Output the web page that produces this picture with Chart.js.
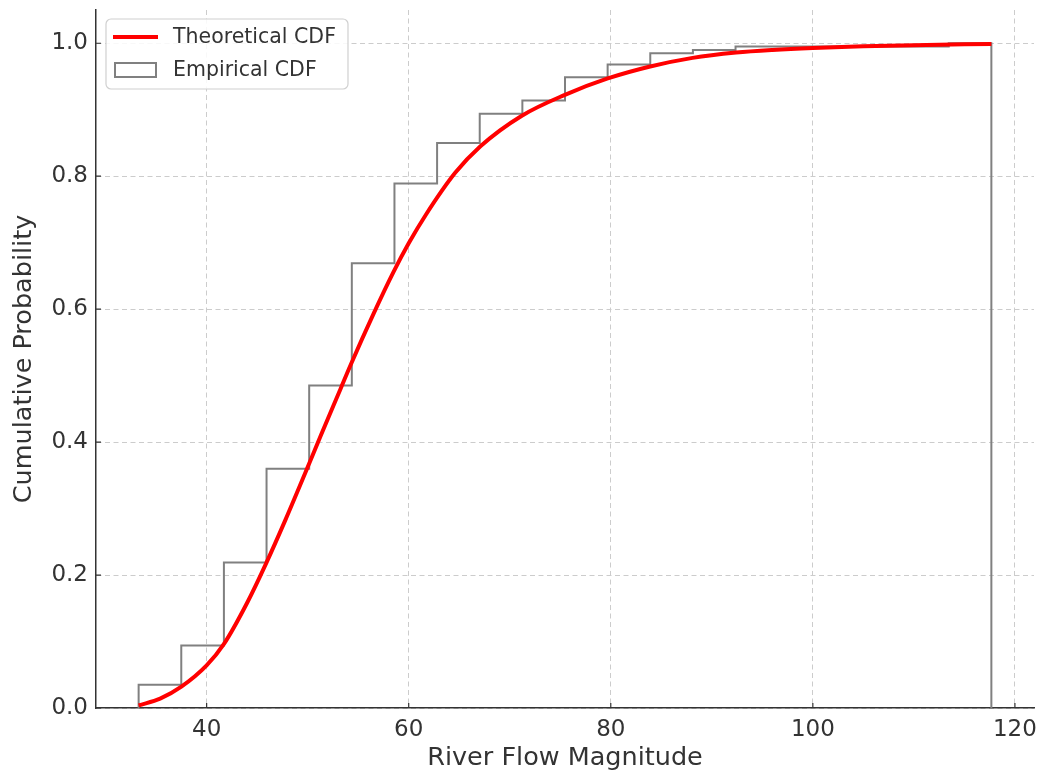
<!DOCTYPE html>
<html>
<head>
<meta charset="utf-8">
<script src="https://cdn.jsdelivr.net/npm/chart.js@4/dist/chart.umd.min.js"></script>
<style>
  html, body { margin: 0; padding: 0; background: #fff; }
  #wrap { width: 1041px; height: 774px; }
</style>
</head>
<body>
<div id="wrap"><canvas id="cdf-chart" width="1041" height="774"></canvas></div>
<script>
const xTicks = [40, 60, 80, 100, 120];
const yTicks = [0, 0.2, 0.4, 0.6, 0.8, 1.0];

// histogram bin edges and cumulative heights (step outline)
const binEdges = [33.27, 37.49, 41.71, 45.93, 50.15, 54.37, 58.59, 62.81, 67.03, 71.25,
  75.47, 79.69, 83.91, 88.13, 92.35, 96.57, 100.79, 105.01, 109.23, 113.45, 117.67];
const empiricalCdf = [0.035, 0.094, 0.219, 0.36, 0.485, 0.669, 0.789, 0.85, 0.894, 0.914,
  0.949, 0.968, 0.985, 0.99, 0.995, 0.995, 0.995, 0.995, 0.995, 1.0];

// theoretical curve
const theoryX = [33.27, 35.4, 37.5, 40, 41.7, 44, 45.9, 47.8, 49.8, 51.3, 53.25, 54.25, 56.55,
  58.5, 60, 61.7, 64.6, 67.1, 71.2, 75.4, 79.7, 83.9, 88.1, 92.4, 96, 100, 105, 110, 117.67];
const theoryY = [0.004, 0.014, 0.032, 0.064, 0.096, 0.158, 0.218, 0.283, 0.355, 0.41, 0.48, 0.516, 0.594,
  0.656, 0.699, 0.742, 0.805, 0.845, 0.891, 0.922, 0.947, 0.965, 0.978, 0.986, 0.99, 0.993, 0.9955, 0.997, 0.999];

const TEXT = "#333333";
const FONT = "'DejaVu Sans', sans-serif";

const stepPoints = [{ x: binEdges[0], y: 0 }];
for (let i = 0; i < empiricalCdf.length; i++) {
  stepPoints.push({ x: binEdges[i], y: empiricalCdf[i] });
  stepPoints.push({ x: binEdges[i + 1], y: empiricalCdf[i] });
}
stepPoints.push({ x: binEdges[binEdges.length - 1], y: 0 });

const theoryPoints = theoryX.map((x, i) => ({ x, y: theoryY[i] }));

// matplotlib-like inward ticks
const innerTicks = {
  id: "innerTicks",
  afterDatasetsDraw(chart) {
    const { ctx, chartArea, scales } = chart;
    ctx.save();
    ctx.strokeStyle = TEXT;
    ctx.lineWidth = 1.2;
    ctx.beginPath();
    for (const v of xTicks) {
      const px = scales.x.getPixelForValue(v);
      ctx.moveTo(px, chartArea.bottom);
      ctx.lineTo(px, chartArea.bottom - 5);
    }
    for (const v of yTicks) {
      const py = scales.y.getPixelForValue(v);
      ctx.moveTo(chartArea.left, py);
      ctx.lineTo(chartArea.left + 5, py);
    }
    ctx.stroke();
    ctx.restore();
  },
};

// legend box in the upper left corner of the axes
const boxLegend = {
  id: "boxLegend",
  afterDraw(chart) {
    const { ctx, chartArea } = chart;
    const x0 = chartArea.left + 10, y0 = chartArea.top + 9;
    const w = 242, h = 70;
    ctx.save();
    ctx.fillStyle = "rgba(255,255,255,0.85)";
    ctx.strokeStyle = "#d0d0d0";
    ctx.lineWidth = 1.2;
    ctx.beginPath();
    ctx.roundRect(x0, y0, w, h, 5);
    ctx.fill();
    ctx.stroke();

    const ds = chart.data.datasets;
    // line handle
    ctx.strokeStyle = ds[0].borderColor;
    ctx.lineWidth = ds[0].borderWidth;
    ctx.beginPath();
    ctx.moveTo(x0 + 7, y0 + 18);
    ctx.lineTo(x0 + 52, y0 + 18);
    ctx.stroke();
    // patch handle
    ctx.strokeStyle = ds[1].borderColor;
    ctx.lineWidth = ds[1].borderWidth;
    ctx.strokeRect(x0 + 9, y0 + 44, 41, 14);

    ctx.fillStyle = TEXT;
    ctx.font = "20.5px " + FONT;
    ctx.textBaseline = "middle";
    ctx.fillText(ds[0].label, x0 + 67, y0 + 19);
    ctx.fillText(ds[1].label, x0 + 67, y0 + 52);
    ctx.restore();
  },
};

const ctx = document.getElementById("cdf-chart").getContext("2d");
new Chart(ctx, {
  type: "line",
  data: {
    datasets: [
      {
        label: "Theoretical CDF",
        data: theoryPoints,
        borderColor: "#ff0000",
        borderWidth: 4,
        pointRadius: 0,
        cubicInterpolationMode: "monotone",
        fill: false,
      },
      {
        label: "Empirical CDF",
        data: stepPoints,
        borderColor: "#808080",
        borderWidth: 2,
        pointRadius: 0,
        tension: 0,
        fill: false,
      },
    ],
  },
  options: {
    responsive: false,
    animation: false,
    layout: { padding: { top: 10, right: 7, left: 0, bottom: 0 } },
    plugins: { legend: { display: false }, tooltip: { enabled: false } },
    scales: {
      x: {
        type: "linear",
        min: 29.05,
        max: 121.89,
        afterBuildTicks: (s) => { s.ticks = xTicks.map((v) => ({ value: v })); },
        afterFit: (s) => { s.height = 66; s.paddingLeft = 0; s.paddingRight = 0; },
        ticks: { color: TEXT, font: { family: FONT, size: 23 }, padding: 8,
          callback: (v) => String(v), maxRotation: 0 },
        grid: { color: "#cccccc", lineWidth: 1, drawTicks: false },
        border: { display: true, color: TEXT, width: 1.5, dash: [5, 3.5] },
        title: { display: true, text: "River Flow Magnitude", color: TEXT,
          font: { family: FONT, size: 25.5 }, padding: { top: 0, bottom: 0 } },
      },
      y: {
        type: "linear",
        min: 0,
        max: 1.05,
        afterBuildTicks: (s) => { s.ticks = yTicks.map((v) => ({ value: v })); },
        afterFit: (s) => { s.width = 96; s.paddingTop = 0; s.paddingBottom = 0; },
        ticks: { color: TEXT, font: { family: FONT, size: 23 }, padding: 8,
          callback: (v) => v.toFixed(1) },
        grid: { color: "#cccccc", lineWidth: 1, drawTicks: false },
        border: { display: true, color: TEXT, width: 1.5, dash: [5, 3.5] },
        title: { display: true, text: "Cumulative Probability", color: TEXT,
          font: { family: FONT, size: 25.5 }, padding: { top: 9, bottom: 0 } },
      },
    },
  },
  plugins: [innerTicks, boxLegend],
});
</script>
</body>
</html>
